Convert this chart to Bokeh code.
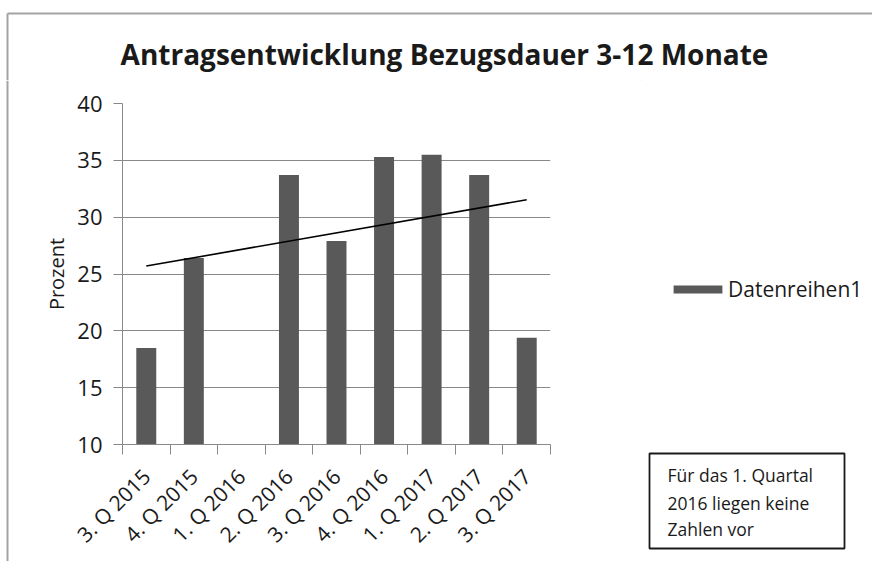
import math
import numpy as np
from bokeh.plotting import figure
from bokeh.layouts import column, row
from bokeh.models import (Range1d, FixedTicker, Label, BoxAnnotation, Legend,
                          LegendItem, ColumnDataSource)
from bokeh.embed import file_html
from bokeh.resources import INLINE

# ---------------- data ----------------
categories = ["3. Q 2015", "4. Q 2015", "1. Q 2016", "2. Q 2016", "3. Q 2016",
              "4. Q 2016", "1. Q 2017", "2. Q 2017", "3. Q 2017"]
prozent = [18.5, 26.4, float("nan"), 33.7, 27.9, 35.3, 35.5, 33.7, 19.4]
y_ticks = [10, 15, 20, 25, 30, 35, 40]
title_text = "Antragsentwicklung Bezugsdauer 3-12 Monate"
y_label = "Prozent"
series_name = "Datenreihen1"
note_lines = ["Für das 1. Quartal", "2016 liegen keine", "Zahlen vor"]

# ---------------- layout (page pixels) ----------------
PW, PH = 872, 561
TOP_H = 80          # height of title strip
STRIP_W = 9         # left strip holding the chart-area border
SIDE_X = 640        # where the right-hand side panel starts
FL, FR, FT, FB = 122, 550, 103, 444   # plot frame edges on the page

FONT = "Open Sans"
GRAY = "#898989"
BAR = "#595959"
BORDER = "#a3a3a3"
TXT = "#1a1a1a"


def blank(w, h, x0, x1, y0, y1):
    f = figure(width=w, height=h, output_backend="svg", toolbar_location=None,
               title=None, x_axis_type=None, y_axis_type=None,
               x_range=Range1d(x0, x1), y_range=Range1d(y1, y0),
               min_border=0, min_border_left=0, min_border_right=0,
               min_border_top=0, min_border_bottom=0,
               background_fill_color="white", border_fill_color="white")
    f.outline_line_color = None
    f.grid.visible = False
    return f


# ---------- title strip ----------
top = blank(PW, TOP_H, 0, PW, 0, TOP_H)
top.segment(x0=[7, 7], y0=[13, 13], x1=[PW, 7], y1=[13, TOP_H],
            line_color=BORDER, line_width=2)
top.add_layout(Label(x=444, y=53, text=title_text, text_align="center",
                     text_baseline="alphabetic", text_font=FONT,
                     text_font_size="28px", text_font_style="bold",
                     text_color=TXT))

# ---------- left strip (border line) ----------
strip = blank(STRIP_W, PH - TOP_H, 0, STRIP_W, TOP_H, PH)
strip.segment(x0=[7], y0=[TOP_H], x1=[7], y1=[PH], line_color=BORDER, line_width=2)

# ---------- chart ----------
CW = SIDE_X - STRIP_W
CH = PH - TOP_H
p = figure(width=CW, height=CH, output_backend="svg", toolbar_location=None,
           title=None, x_range=Range1d(0, len(categories)), y_range=Range1d(10, 40),
           min_border_left=FL - STRIP_W, min_border_right=SIDE_X - FR,
           min_border_top=FT - TOP_H, min_border_bottom=PH - FB,
           background_fill_color="white", border_fill_color="white")
p.outline_line_color = None

xc = [i + 0.5 for i in range(len(categories))]
src = ColumnDataSource(dict(x=xc, top=prozent, cat=categories))
bars = p.vbar(x="x", top="top", bottom=10, width=0.42, source=src,
              fill_color=BAR, line_color=None)

# linear trend line (least squares over the available quarters)
idx = np.array([i for i, v in enumerate(prozent) if not math.isnan(v)], dtype=float)
vals = np.array([v for v in prozent if not math.isnan(v)])
k, d = np.polyfit(idx, vals, 1)
p.line([xc[0], xc[-1]], [d, k * (len(categories) - 1) + d],
       line_color="black", line_width=1.6)

p.xaxis.ticker = FixedTicker(ticks=xc, minor_ticks=list(range(len(categories) + 1)))
p.xaxis.major_label_overrides = {x: c for x, c in zip(xc, categories)}
p.xaxis.major_label_orientation = math.pi / 4
p.xaxis.major_tick_line_color = None
p.xaxis.minor_tick_line_color = GRAY
p.xaxis.minor_tick_out = 10
p.xaxis.minor_tick_in = 0
p.xaxis.axis_line_color = GRAY
p.xaxis.major_label_text_font = FONT
p.xaxis.major_label_text_font_size = "21px"
p.xaxis.major_label_text_color = TXT
p.xaxis.major_label_standoff = 18

p.yaxis.ticker = FixedTicker(ticks=y_ticks)
p.yaxis.minor_tick_line_color = None
p.yaxis.major_tick_out = 9
p.yaxis.major_tick_in = 0
p.yaxis.major_tick_line_color = GRAY
p.yaxis.axis_line_color = GRAY
p.yaxis.major_label_text_font = FONT
p.yaxis.major_label_text_font_size = "22px"
p.yaxis.major_label_text_color = TXT
p.yaxis.major_label_standoff = 11
p.yaxis.axis_label = y_label
p.yaxis.axis_label_text_font = FONT
p.yaxis.axis_label_text_font_size = "20px"
p.yaxis.axis_label_text_font_style = "normal"
p.yaxis.axis_label_text_color = TXT
p.yaxis.axis_label_standoff = 4

p.xgrid.grid_line_color = None
p.ygrid.ticker = FixedTicker(ticks=y_ticks)
p.ygrid.grid_line_color = GRAY
p.ygrid.grid_line_width = 1.2

# ---------- right side: legend and note ----------
side = blank(PW - SIDE_X, PH - TOP_H, SIDE_X, PW, TOP_H, PH)
# legend key: same style as the bars, its single row lies outside the view
swatch = side.vbar(x=[0], top=[0], bottom=[-1], width=1, fill_color=BAR, line_color=None)
legend = Legend(items=[LegendItem(label=series_name, renderers=[swatch])],
                location=(667 - SIDE_X, PH - 303), glyph_width=61, glyph_height=10,
                label_standoff=0, padding=0, margin=0, spacing=0,
                border_line_color=None, background_fill_alpha=0,
                label_text_font=FONT, label_text_font_size="21px",
                label_text_color=TXT)
side.add_layout(legend)

side.add_layout(BoxAnnotation(left=649, right=844, top=453, bottom=548,
                              fill_color="white", fill_alpha=1,
                              line_color="#1a1a1a", line_alpha=1, line_width=1.8))
for line, base in zip(note_lines, [480, 508, 534]):
    side.add_layout(Label(x=667, y=base - 6, text=line, text_align="left",
                          text_baseline="alphabetic", text_font=FONT,
                          text_font_size="17.5px", text_color=TXT))

layout = column(top, row(column(strip), p, column(side)))
open("out.html", "w").write(file_html(layout, INLINE))
